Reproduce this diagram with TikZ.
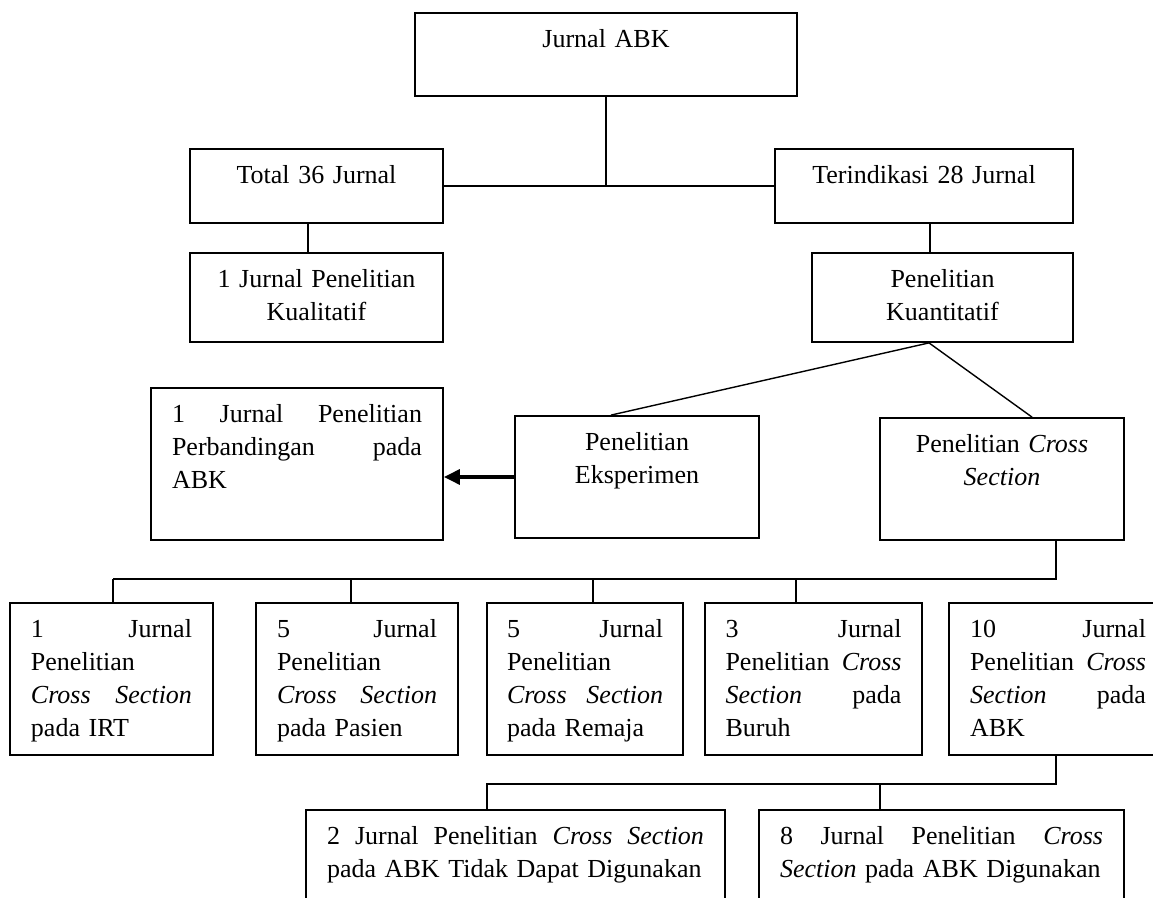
\documentclass[tikz,border=0pt]{standalone}
\usepackage{fontspec}
\setmainfont{Liberation Serif}
\usetikzlibrary{calc,positioning,fit,arrows.meta}

% satu baris rata kiri-kanan
\newlength{\lebar}
\newcommand{\jline}[1]{\leavevmode\hbox to \lebar{#1}}

\begin{document}
\begin{tikzpicture}[x=0.5pt,y=-0.5pt,
    kotak/.style={draw, line width=0.9pt, inner sep=0pt},
    teks/.style={inner sep=0pt, text width=#1, align=center, anchor=base,
        font=\fontsize{13}{16.5}\selectfont},
    teksj/.style={teks=#1, align=left, execute at begin node={\setlength{\lebar}{#1}}},
    garis/.style={line width=0.7pt}]
\useasboundingbox (0,0) rectangle (1153,898);
\clip (0,0) rectangle (1153,898);

% kotak-kotak
\node[kotak, fit={(415,13) (797,96)}] (abk) {};
\node[kotak, fit={(190,149) (443,223)}] (total) {};
\node[kotak, fit={(775,149) (1073,223)}] (terind) {};
\node[kotak, fit={(190,253) (443,342)}] (kual) {};
\node[kotak, fit={(812,253) (1073,342)}] (kuant) {};
\node[kotak, fit={(151,388) (443,540)}] (banding) {};
\node[kotak, fit={(515,416) (759,538)}] (eksp) {};
\node[kotak, fit={(880,418) (1124,540)}] (cross) {};
% baris bawah
\foreach \n/\a/\b in {b1/10/213, b2/256/458, b3/487/683, b4/705/922, b5/949/1167}
    \node[kotak, fit={(\a,603) (\b,755)}] (\n) {};
\node[kotak, fit={(306,810) (725,912)}] (tdk) {};
\node[kotak, fit={(759,810) (1124,912)}] (guna) {};

% isi teks
\node[teks=170pt] (abk-t) at ([yshift=-17.5pt]abk.north) {Jurnal ABK};
\node[teks=116pt] (total-t) at ([yshift=-17.5pt]total.north) {Total 36 Jurnal};
\node[teks=138pt] (terind-t) at ([yshift=-17.5pt]terind.north) {Terindikasi 28 Jurnal};
\node[teks=116pt] (kual-t) at ([yshift=-17.5pt]kual.north) {1 Jurnal Penelitian\\ Kualitatif};
\node[teks=120pt] (kuant-t) at ([yshift=-17.5pt]kuant.north) {Penelitian\\ Kuantitatif};
\node[teksj=125pt] (banding-t) at ([yshift=-17.5pt]banding.north)
    {\jline{1\hfill Jurnal\hfill Penelitian}\\ \jline{Perbandingan\hfill pada}\\ ABK};
\node[teks=112pt] (eksp-t) at ([yshift=-17.5pt]eksp.north) {Penelitian\\ Eksperimen};
\node[teks=112pt] (cross-t) at ([yshift=-17.5pt]cross.north)
    {Penelitian \textit{Cross}\\ \textit{Section}};
\node[teksj=80.5pt] (b1-t) at ([yshift=-17.5pt]b1.north)
    {\jline{1\hfill Jurnal}\\ Penelitian\\ \jline{\textit{Cross}\hfill\textit{Section}}\\ pada IRT};
\node[teksj=80pt] (b2-t) at ([yshift=-17.5pt]b2.north)
    {\jline{5\hfill Jurnal}\\ Penelitian\\ \jline{\textit{Cross}\hfill\textit{Section}}\\ pada Pasien};
\node[teksj=78pt] (b3-t) at ([yshift=-17.5pt]b3.north)
    {\jline{5\hfill Jurnal}\\ Penelitian\\ \jline{\textit{Cross}\hfill\textit{Section}}\\ pada Remaja};
\node[teksj=88pt] (b4-t) at ([yshift=-17.5pt]b4.north)
    {\jline{3\hfill Jurnal}\\ \jline{Penelitian\hfill\textit{Cross}}\\ \jline{\textit{Section}\hfill pada}\\ Buruh};
\node[teksj=88pt] (b5-t) at ([yshift=-17.5pt]b5.north)
    {\jline{10\hfill Jurnal}\\ \jline{Penelitian\hfill\textit{Cross}}\\ \jline{\textit{Section}\hfill pada}\\ ABK};
\node[teksj=188.5pt] (tdk-t) at ([yshift=-17.5pt]tdk.north)
    {\jline{2\hfill Jurnal\hfill Penelitian\hfill\textit{Cross}\hfill\textit{Section}}\\ pada ABK Tidak Dapat Digunakan};
\node[teksj=161.5pt] (guna-t) at ([yshift=-17.5pt]guna.north)
    {\jline{8\hfill Jurnal\hfill Penelitian\hfill\textit{Cross}}\\ \textit{Section} pada ABK Digunakan};

% garis penghubung
\draw[garis] (abk.south) -- (abk.south |- total.east);
\draw[garis] (total.east) -- (terind.west);
\draw[garis] ([xshift=-4.25pt]total.south) -- ([xshift=-4.25pt]kual.north);
\draw[garis] ([xshift=3pt]terind.south) -- ([xshift=3pt]terind.south |- kuant.north);
\coordinate (cabang) at ([xshift=-6.75pt]kuant.south);
\draw[garis] (cabang) -- ([xshift=-13pt]eksp.north);
\draw[garis] (cabang) -- ([xshift=15pt]cross.north);
\draw[line width=1.6pt, -{Triangle[length=8pt,width=7.5pt]}] (eksp.west) -- (eksp.west -| banding.east);

% cabang ke baris bawah
\coordinate (bus) at ([xshift=27pt,yshift=-19pt]cross.south);
\foreach \n/\s in {b1/0.75pt, b2/-3pt, b3/4pt, b4/-8.75pt} {
    \coordinate (\n-atas) at ([xshift=\s]\n.north);
    \draw[garis] (\n-atas) -- (\n-atas |- bus);
}
\draw[garis] ([xshift=27pt]cross.south) -- (bus) -- (b1-atas |- bus);

\coordinate (bus2) at ([xshift=-1pt,yshift=-14pt]b5.south);
\coordinate (tdk-atas) at ([xshift=-14.25pt]tdk.north);
\coordinate (guna-atas) at ([xshift=-30.75pt]guna.north);
\draw[garis] ([xshift=-1pt]b5.south) -- (bus2) -- (tdk-atas |- bus2) -- (tdk-atas);
\draw[garis] (guna-atas) -- (guna-atas |- bus2);
\end{tikzpicture}
\end{document}
